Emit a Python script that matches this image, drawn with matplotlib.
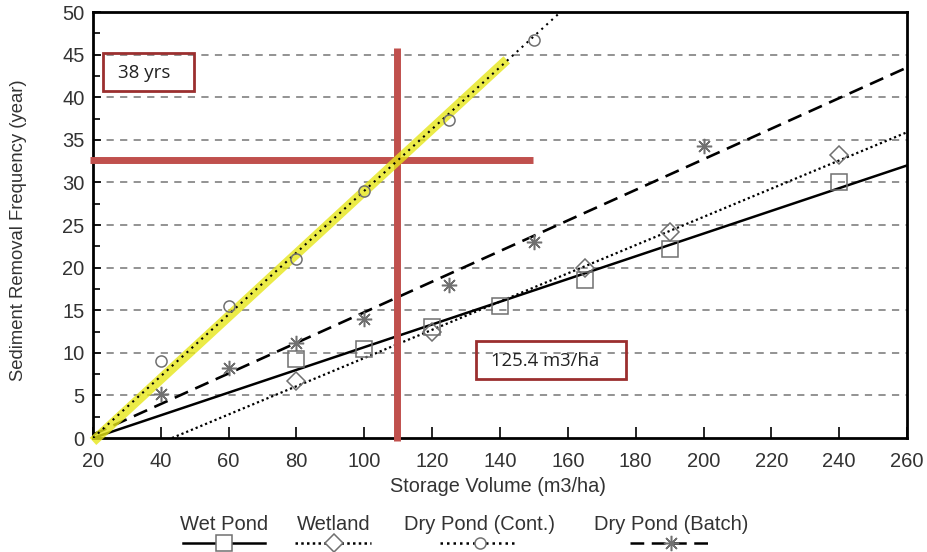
import numpy as np
import matplotlib
matplotlib.use('Agg')
import matplotlib.pyplot as plt
from matplotlib.lines import Line2D
from matplotlib.patches import Rectangle

plt.rcParams['font.family'] = ['Liberation Sans', 'DejaVu Sans']

# measured points
wet_x = [80, 100, 120, 140, 165, 190, 240]
wet_y = [9.3, 10.5, 13.0, 15.5, 18.5, 22.2, 30.0]
wetland_x = [80, 120, 165, 190, 240]
wetland_y = [6.7, 12.5, 20.0, 24.2, 33.2]
cont_x = [40, 60, 80, 100, 125, 150]
cont_y = [9.0, 15.5, 21.0, 29.0, 37.3, 46.7]
batch_x = [40, 60, 80, 100, 125, 150, 200]
batch_y = [5.2, 8.2, 11.2, 14.0, 18.0, 23.0, 34.3]

# fitted lines (end points)
wet_fit_x = [20, 260]
wet_fit_y = [0, 32.0]
wetland_fit_x = [43.3, 260]
wetland_fit_y = [0, 35.9]
cont_fit_x = [20, 157.8]
cont_fit_y = [0, 50]
batch_fit_x = [20, 260]
batch_fit_y = [0.4, 43.5]

# annotation overlay
yellow_x = [20, 142]
yellow_y = [-0.4, 44.4]
red_h_x = [19, 149.8]
red_h_y = [32.6, 32.6]
red_v_x = [109.7, 109.7]
red_v_y = [-0.3, 45.8]
box1_text = '38 yrs'
box2_text = '125.4 m3/ha'

mk_col = '#707070'
red = '#c0504d'
box_col = '#9b2f2f'
txt_col = '#333333'

fig = plt.figure(figsize=(9.28, 5.52), dpi=100)
ax = fig.add_axes([0.1002, 0.2065, 0.8772, 0.7715])

ax.set_xlim(20, 260)
ax.set_ylim(0, 50)

for y in range(5, 50, 5):
    ax.axhline(y, color='#8a8a8a', lw=1.3, ls=(0, (4, 3.5)), zorder=1)

ax.plot(wet_fit_x, wet_fit_y, color='black', lw=1.8, zorder=3)
ax.plot(wetland_fit_x, wetland_fit_y, color='black', lw=1.6, ls=(0, (1, 1.3)), zorder=3)
ax.plot(batch_fit_x, batch_fit_y, color='black', lw=1.9, ls=(0, (5.5, 3)), zorder=3)

ax.plot(red_h_x, red_h_y, color=red, lw=5, zorder=4, clip_on=False, solid_capstyle='butt')
ax.plot(red_v_x, red_v_y, color=red, lw=5, zorder=4, clip_on=False, solid_capstyle='butt')
ax.plot(yellow_x, yellow_y, color='#e6e619', lw=7, alpha=0.8, zorder=5,
        clip_on=False, solid_capstyle='butt')

ax.plot(cont_fit_x, cont_fit_y, color='black', lw=1.5, ls=(0, (1, 2.2)), zorder=6)

ax.plot(wet_x, wet_y, ls='none', marker='s', ms=12, mfc='none', mec=mk_col, mew=1.1, zorder=7)
ax.plot(wetland_x, wetland_y, ls='none', marker='D', ms=9, mfc='none', mec=mk_col, mew=1.1, zorder=7)
ax.plot(cont_x, cont_y, ls='none', marker='o', ms=8, mfc='none', mec=mk_col, mew=1.1, zorder=7)
ax.plot(batch_x, batch_y, ls='none', marker=(8, 2, 0), ms=11, mec=mk_col, mew=1.1, zorder=7)

ax.add_patch(Rectangle((23, 40.7), 26.8, 4.5, fill=False, ec=box_col, lw=2, zorder=8))
ax.text(27.3, 42.9, box1_text, fontsize=13.5, va='center', ha='left', zorder=9,
        family=['Open Sans', 'DejaVu Sans'], color='#222222')
ax.add_patch(Rectangle((133, 6.9), 44.2, 4.5, fill=False, ec=box_col, lw=2, zorder=8))
ax.text(137.2, 9.1, box2_text, fontsize=13.3, va='center', ha='left', zorder=9,
        family=['Open Sans', 'DejaVu Sans'], color='#222222')

ax.set_xticks(range(20, 261, 20))
ax.set_yticks(range(0, 51, 5))
ax.set_yticks(np.arange(2.5, 50, 5), minor=True)
ax.tick_params(axis='both', direction='in', labelsize=14.5, colors='black',
               labelcolor=txt_col, width=1.2)
ax.tick_params(axis='x', length=8, pad=10)
ax.tick_params(axis='y', length=6, pad=6)
ax.tick_params(axis='y', which='minor', direction='in', length=5, width=1.2)
for s in ax.spines.values():
    s.set_linewidth(2)

ax.set_xlabel('Storage Volume (m3/ha)', fontsize=14.3, color=txt_col, va='center')
ax.set_ylabel('Sediment Removal Frequency (year)', fontsize=13.3, color=txt_col, va='center')
ax.xaxis.set_label_coords(0.497, -0.115)
ax.yaxis.set_label_coords(-0.091, 0.488)

# legend: text above line samples
legend_items = [
    ('Wet Pond', 224, (183, 265), dict(ls='-', marker='s', ms=12)),
    ('Wetland', 334, (295, 371), dict(ls=(0, (1, 1.3)), marker='D', ms=9)),
    ('Dry Pond (Cont.)', 480, (440, 517), dict(ls=(0, (1, 1.6)), marker='o', ms=8)),
    ('Dry Pond (Batch)', 671, (630, 712), dict(ls=(0, (5.5, 3)), marker=(8, 2, 0), ms=11)),
]
W, H = 928, 552
for label, cx, (x0, x1), st in legend_items:
    fig.text(cx / W, 1 - 524 / H, label, ha='center', va='center', fontsize=14.5, color=txt_col)
    fig.add_artist(Line2D([x0 / W, x1 / W], [1 - 543 / H, 1 - 543 / H], color='black',
                          lw=1.8, ls=st['ls']))
    fig.add_artist(Line2D([cx / W], [1 - 543 / H], ls='none', marker=st['marker'], ms=st['ms'],
                          mfc='white', mec=mk_col, mew=1.1))

fig.savefig('out.png', dpi=100)
